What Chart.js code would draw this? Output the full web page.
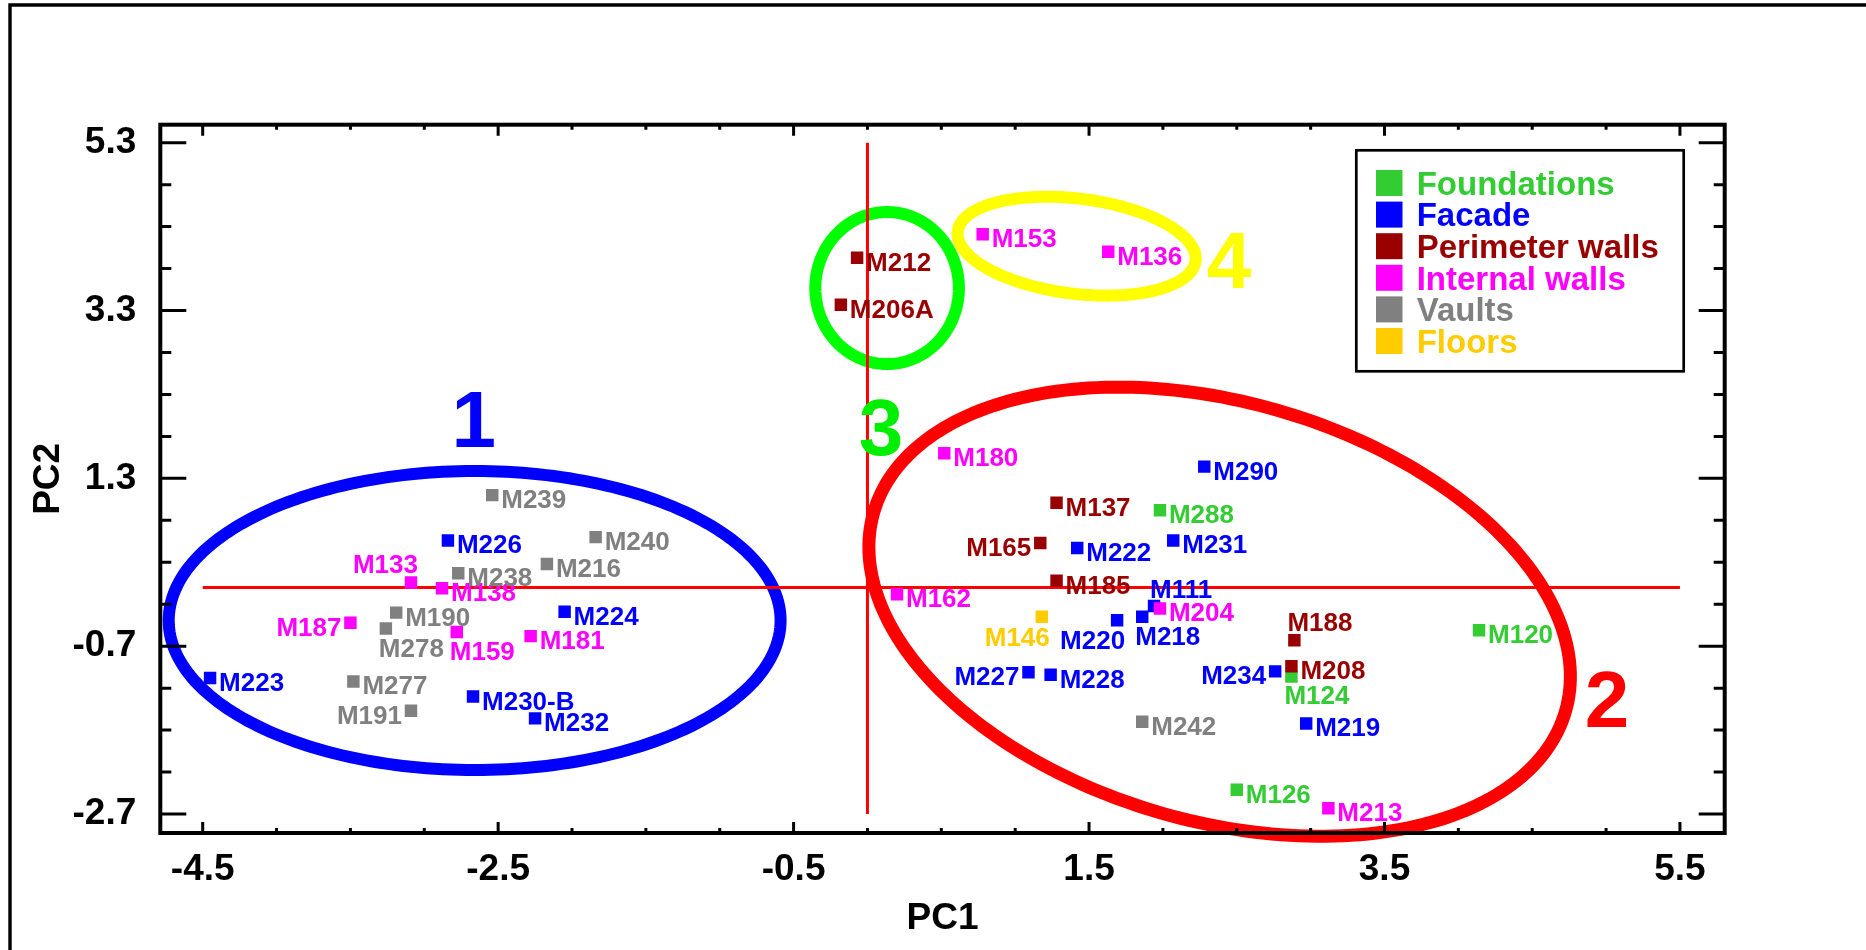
<!DOCTYPE html>
<html>
<head>
<meta charset="utf-8">
<title>PC1 / PC2 scores</title>
<script src="https://cdn.jsdelivr.net/npm/chart.js@4.4.1/dist/chart.umd.min.js"></script>
<style>
  html, body { margin: 0; padding: 0; background: #fff; overflow: hidden; }
  #wrap { position: relative; width: 1866px; height: 950px; }
</style>
</head>
<body>
<div id="wrap"><canvas id="pcaChart" width="1866" height="950"></canvas></div>
<script>
// categories (legend order)
var categories = ['Foundations', 'Facade', 'Perimeter walls', 'Internal walls', 'Vaults', 'Floors'];

// sample scores, one set of arrays per category
var foundationsNames = ['M288', 'M120', 'M124', 'M126'];
var foundationsPC1 = [1.98, 4.14, 2.87, 2.50];
var foundationsPC2 = [0.92, -0.51, -1.06, -2.41];

var facadeNames = ['M223', 'M226', 'M224', 'M230-B', 'M232', 'M290', 'M222', 'M231', 'M111', 'M220', 'M218', 'M227', 'M228', 'M234', 'M219'];
var facadePC1 = [-4.45, -2.84, -2.05, -2.67, -2.25, 2.28, 1.42, 2.07, 1.94, 1.69, 1.86, 1.09, 1.24, 2.76, 2.97];
var facadePC2 = [-1.08, 0.56, -0.29, -1.30, -1.56, 1.44, 0.47, 0.56, -0.22, -0.39, -0.35, -1.01, -1.04, -1.00, -1.62];

var perimeterNames = ['M212', 'M206A', 'M137', 'M165', 'M185', 'M188', 'M208'];
var perimeterPC1 = [-0.07, -0.18, 1.28, 1.17, 1.28, 2.89, 2.87];
var perimeterPC2 = [3.93, 3.37, 1.01, 0.53, 0.08, -0.63, -0.94];

var internalNames = ['M153', 'M136', 'M133', 'M138', 'M187', 'M159', 'M181', 'M180', 'M162', 'M204', 'M213'];
var internalPC1 = [0.78, 1.63, -3.09, -2.88, -3.50, -2.78, -2.28, 0.52, 0.20, 1.98, 3.12];
var internalPC2 = [4.21, 4.00, 0.06, -0.01, -0.42, -0.53, -0.58, 1.60, -0.08, -0.25, -2.63];

var vaultsNames = ['M239', 'M240', 'M216', 'M238', 'M190', 'M278', 'M277', 'M191', 'M242'];
var vaultsPC1 = [-2.54, -1.84, -2.17, -2.77, -3.19, -3.26, -3.48, -3.09, 1.86];
var vaultsPC2 = [1.10, 0.60, 0.28, 0.17, -0.30, -0.49, -1.12, -1.47, -1.60];

var floorsNames = ['M146'];
var floorsPC1 = [1.18];
var floorsPC2 = [-0.35];

// axis ticks
var xTickValues = [-4.5, -2.5, -0.5, 1.5, 3.5, 5.5];
var xTickLabels = ['-4.5', '-2.5', '-0.5', '1.5', '3.5', '5.5'];
var yTickValues = [-2.7, -0.7, 1.3, 3.3, 5.3];
var yTickLabels = ['-2.7', '-0.7', '1.3', '3.3', '5.3'];

// group numbers written next to the rings
var groupNumbers = ['1', '2', '3', '4'];
var groupNumberPC1 = [-2.666, 5.006, 0.091, 2.447];
var groupNumberPC2 = [2.013, -1.318, 1.924, 3.914];

var seriesNames = [foundationsNames, facadeNames, perimeterNames, internalNames, vaultsNames, floorsNames];
var seriesPC1 = [foundationsPC1, facadePC1, perimeterPC1, internalPC1, vaultsPC1, floorsPC1];
var seriesPC2 = [foundationsPC2, facadePC2, perimeterPC2, internalPC2, vaultsPC2, floorsPC2];
var seriesColors = ['#33CC33', '#0000FF', '#990000', '#FF00FF', '#808080', '#FFCC00'];

// where a point's name sits, when not to the right
var labelPlace = {
  M133: 'aboveLeft', M187: 'left', M191: 'left', M278: 'below', M159: 'below',
  M165: 'left', M227: 'left', M234: 'left', M146: 'belowLeft', M220: 'belowLeft',
  M218: 'below', M124: 'below', M188: 'above', M111: 'aboveTight'
};

// rings drawn round the groups: centre plus two half-axis vectors, in data units
var rings = [
  { color: '#0000FF', width: 12, c: [-2.659, -0.394], u: [2.071, 0], v: [0, -1.782] },
  { color: '#FF0000', width: 13, c: [2.384, -0.289], u: [2.342, -1.182], v: [-0.391, -2.401] },
  { color: '#00FF00', width: 12, c: [0.133, 3.568], u: [0.486, 0], v: [0, -0.906] },
  { color: '#FFFF00', width: 12, c: [1.416, 4.067], u: [0.805, -0.176], v: [-0.040, -0.5625] }
];
var numberColors = ['#0000FF', '#FF0000', '#00EE00', '#FFFF00'];

var FONT = '"Liberation Sans", Arial, Helvetica, sans-serif';

var datasets = categories.map(function (cat, i) {
  return {
    label: cat,
    data: seriesPC1[i].map(function (x, j) { return { x: x, y: seriesPC2[i][j] }; }),
    backgroundColor: seriesColors[i],
    pointStyle: 'rect',
    pointRadius: 8.8,
    pointHoverRadius: 8.8,
    borderWidth: 0,
    order: categories.length - i
  };
});

function tracePath(ctx, xs, ys, r) {
  ctx.beginPath();
  for (var k = 0; k <= 240; k++) {
    var t = k / 240 * Math.PI * 2;
    var dx = r.c[0] + r.u[0] * Math.cos(t) + r.v[0] * Math.sin(t);
    var dy = r.c[1] + r.u[1] * Math.cos(t) + r.v[1] * Math.sin(t);
    var px = xs.getPixelForValue(dx), py = ys.getPixelForValue(dy);
    if (k === 0) ctx.moveTo(px, py); else ctx.lineTo(px, py);
  }
  ctx.closePath();
}

var underlay = {
  id: 'underlay',
  beforeDatasetsDraw: function (chart) {
    var ctx = chart.ctx, xs = chart.scales.x, ys = chart.scales.y;
    ctx.save();
    rings.forEach(function (r) {
      ctx.strokeStyle = r.color;
      ctx.lineWidth = r.width;
      tracePath(ctx, xs, ys, r);
      ctx.stroke();
    });
    // zero lines
    ctx.strokeStyle = '#FF0000';
    ctx.lineWidth = 3;
    ctx.beginPath();
    ctx.moveTo(xs.getPixelForValue(xTickValues[0]), ys.getPixelForValue(0));
    ctx.lineTo(xs.getPixelForValue(xTickValues[xTickValues.length - 1]), ys.getPixelForValue(0));
    ctx.moveTo(xs.getPixelForValue(0), ys.getPixelForValue(yTickValues[0]));
    ctx.lineTo(xs.getPixelForValue(0), ys.getPixelForValue(yTickValues[yTickValues.length - 1]));
    ctx.stroke();
    ctx.restore();
  }
};

var overlay = {
  id: 'overlay',
  afterDatasetsDraw: function (chart) {
    var ctx = chart.ctx, xs = chart.scales.x, ys = chart.scales.y;
    ctx.save();

    // point names
    ctx.font = 'bold 26px ' + FONT;
    ctx.textBaseline = 'alphabetic';
    categories.forEach(function (cat, i) {
      var meta = chart.getDatasetMeta(i);
      ctx.fillStyle = seriesColors[i];
      meta.data.forEach(function (pt, j) {
        var name = seriesNames[i][j];
        var place = labelPlace[name] || 'right';
        var tx = pt.x + 9, ty = pt.y + 13, align = 'left';
        if (place === 'left') { tx = pt.x - 9; align = 'right'; }
        else if (place === 'above') { tx = pt.x - 7; ty = pt.y - 9; }
        else if (place === 'aboveTight') { tx = pt.x - 4; ty = pt.y - 8; }
        else if (place === 'aboveLeft') { tx = pt.x + 7; ty = pt.y - 9; align = 'right'; }
        else if (place === 'below') { tx = pt.x - 7; ty = pt.y + 28; }
        else if (place === 'belowLeft') { tx = pt.x + 8; ty = pt.y + 29; align = 'right'; }
        ctx.textAlign = align;
        ctx.fillText(name, tx, ty);
      });
    });

    // group numbers
    ctx.font = 'bold 80px ' + FONT;
    ctx.textAlign = 'center';
    groupNumbers.forEach(function (n, i) {
      ctx.fillStyle = numberColors[i];
      ctx.fillText(n, xs.getPixelForValue(groupNumberPC1[i]), ys.getPixelForValue(groupNumberPC2[i]) + 28.6);
    });

    // legend box
    ctx.strokeStyle = '#000';
    ctx.lineWidth = 2.7;
    ctx.strokeRect(1356.3, 150.3, 327.4, 221);
    ctx.font = 'bold 33px ' + FONT;
    ctx.textAlign = 'left';
    categories.forEach(function (cat, i) {
      var cy = 183 + i * 31.6;
      ctx.fillStyle = seriesColors[i];
      ctx.fillRect(1376, cy - 13, 26.5, 26);
      ctx.fillText(cat, 1416.7, cy + 11.8);
    });
    ctx.restore();
  },
  afterDraw: function (chart) {
    var ctx = chart.ctx, xs = chart.scales.x, ys = chart.scales.y;
    var a = chart.chartArea;
    ctx.save();
    ctx.strokeStyle = '#000';

    // tick marks, pointing inward on all four sides
    ctx.lineWidth = 3;
    ctx.beginPath();
    var v, px, py, major, len;
    for (v = -4.5; v <= xs.max + 1e-9; v += 0.5) {
      if (v < xs.min) continue;
      px = xs.getPixelForValue(v);
      major = xTickValues.some(function (t) { return Math.abs(t - v) < 1e-6; });
      len = major ? 11 : 5;
      ctx.moveTo(px, a.bottom); ctx.lineTo(px, a.bottom - len);
      ctx.moveTo(px, a.top); ctx.lineTo(px, a.top + len);
    }
    for (v = -2.7; v <= ys.max + 1e-9; v += 0.5) {
      if (v < ys.min) continue;
      py = ys.getPixelForValue(v);
      major = yTickValues.some(function (t) { return Math.abs(t - v) < 1e-6; });
      len = major ? 26 : 11;
      ctx.moveTo(a.left, py); ctx.lineTo(a.left + len, py);
      ctx.moveTo(a.right, py); ctx.lineTo(a.right - len, py);
    }
    ctx.stroke();

    // plot frame
    ctx.lineWidth = 4;
    ctx.strokeRect(a.left, a.top, a.right - a.left, a.bottom - a.top);

    // outer figure frame (left and top edges show)
    ctx.lineWidth = 3.4;
    ctx.beginPath();
    ctx.moveTo(10, 950); ctx.lineTo(10, 5); ctx.lineTo(1866, 5);
    ctx.stroke();
    ctx.restore();
  }
};

var tickFont = { family: FONT, size: 37, weight: 'bold' };

var ctx = document.getElementById('pcaChart');
var pcaChart = new Chart(ctx, {
  type: 'scatter',
  data: { datasets: datasets },
  options: {
    responsive: false,
    animation: false,
    devicePixelRatio: 1,
    events: [],
    layout: { padding: { left: 0, top: 124.7, right: 141.3, bottom: 0 } },
    plugins: { legend: { display: false }, tooltip: { enabled: false } },
    scales: {
      x: {
        type: 'linear', min: -4.787, max: 5.803,
        grid: { display: false, drawTicks: false },
        border: { display: false },
        afterBuildTicks: function (axis) { axis.ticks = xTickValues.map(function (t) { return { value: t }; }); },
        afterFit: function (axis) { axis.height = 117; },
        ticks: {
          autoSkip: false, maxRotation: 0, padding: 15, color: '#000', font: tickFont,
          callback: function (val, i) { return xTickLabels[i]; }
        },
        title: { display: true, text: 'PC1', color: '#000', font: tickFont, padding: { top: 0, bottom: 9 } }
      },
      y: {
        type: 'linear', min: -2.926, max: 5.5145,
        grid: { display: false, drawTicks: false },
        border: { display: false },
        afterBuildTicks: function (axis) { axis.ticks = yTickValues.map(function (t) { return { value: t }; }); },
        afterFit: function (axis) { axis.width = 160.3; },
        ticks: {
          autoSkip: false, padding: 24, color: '#000', font: tickFont,
          callback: function (val, i) { return yTickLabels[i]; }
        },
        title: { display: true, text: 'PC2', color: '#000', font: tickFont, padding: { top: 27, bottom: 0 } }
      }
    }
  },
  plugins: [underlay, overlay]
});
</script>
</body>
</html>
